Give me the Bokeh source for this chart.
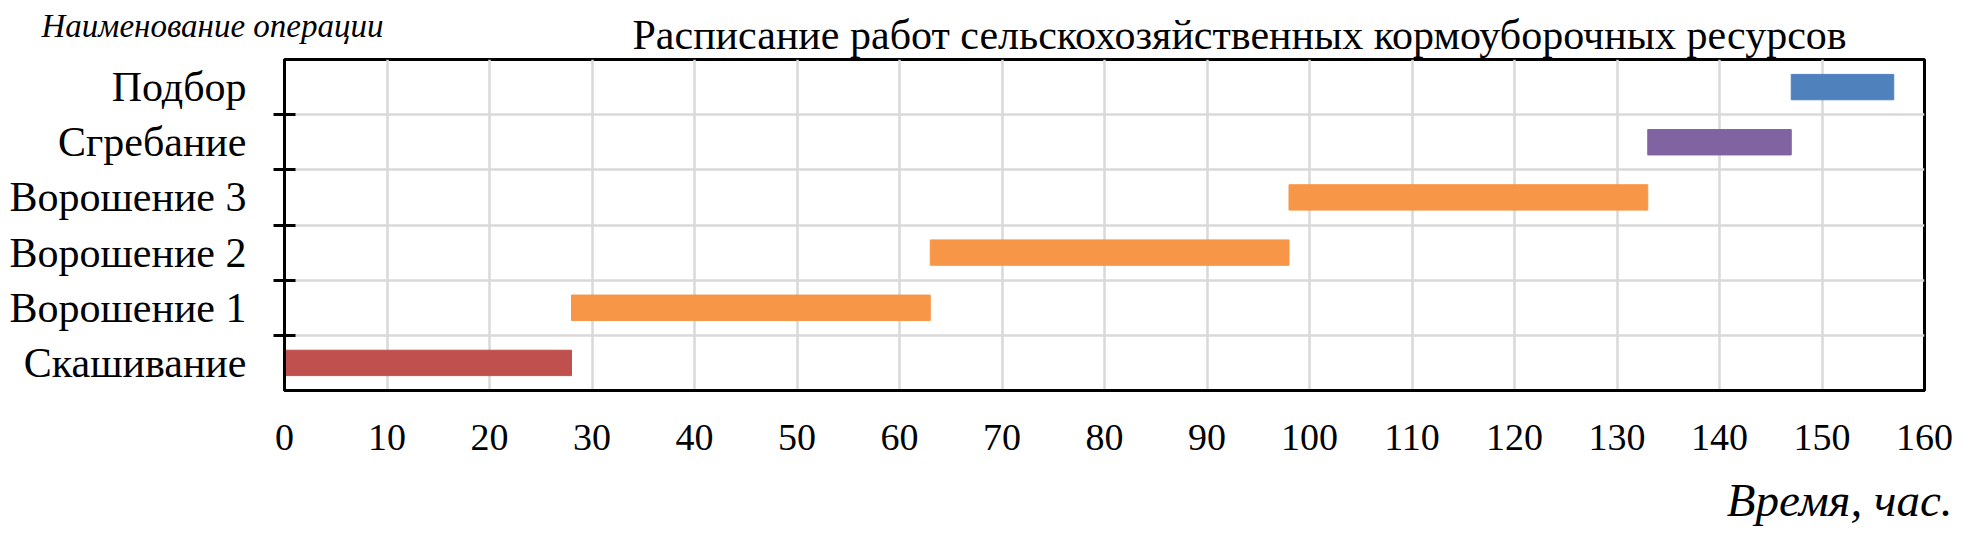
from bokeh.plotting import figure
from bokeh.models import FixedTicker, Label, Range1d, ColumnDataSource, Title
from bokeh.embed import file_html
from bokeh.resources import INLINE

operations = ["Скашивание", "Ворошение 1", "Ворошение 2", "Ворошение 3", "Сгребание", "Подбор"]
start_h = [0, 28, 63, 98, 133, 147]
end_h = [28, 63, 98, 133, 147, 157]
bar_colors = ["#C0504D", "#F79646", "#F79646", "#F79646", "#8064A2", "#4F81BD"]
x_ticks = [0, 10, 20, 30, 40, 50, 60, 70, 80, 90, 100, 110, 120, 130, 140, 150, 160]

title_text = "Расписание работ сельскохозяйственных кормоуборочных ресурсов"
y_title = "Наименование операции"
x_title = "Время, час."

FONT = "Liberation Serif"
W, H = 1953, 529
FL, FT, FR, FB = 284, 59, 1924, 390  # frame edges in canvas pixels

ypos = [i + 0.5 for i in range(len(operations))]
src = ColumnDataSource(dict(y=ypos, left=start_h, right=end_h, color=bar_colors, name=operations))

p = figure(width=W, height=H, output_backend="svg", toolbar_location=None,
           x_range=Range1d(x_ticks[0], x_ticks[-1]), y_range=Range1d(0, len(operations)),
           min_border_left=FL, min_border_right=W - FR, min_border_top=FT, min_border_bottom=H - FB)
p.background_fill_color = "white"
p.border_fill_color = "white"
p.outline_line_color = "black"
p.outline_line_width = 3

p.hbar(y="y", left="left", right="right", height=0.46, color="color", source=src)

# grids
p.xgrid.ticker = FixedTicker(ticks=x_ticks[1:-1])
p.ygrid.ticker = FixedTicker(ticks=[i for i in range(1, len(operations))])
for g in (p.xgrid, p.ygrid):
    g.grid_line_color = "#D9D9D9"
    g.grid_line_width = 2.5

# x axis
xa = p.xaxis[0]
xa.ticker = FixedTicker(ticks=x_ticks)
xa.axis_line_color = "black"
xa.axis_line_width = 3
xa.major_tick_in = 0
xa.major_tick_out = 0
xa.minor_tick_in = 0
xa.minor_tick_out = 0
xa.major_label_standoff = 34
xa.major_label_text_font = FONT
xa.major_label_text_font_size = "38px"
xa.major_label_text_color = "black"

# y axis
ya = p.yaxis[0]
ya.ticker = FixedTicker(ticks=ypos, minor_ticks=[i for i in range(1, len(operations))])
ya.major_label_overrides = {y: n for y, n in zip(ypos, operations)}
ya.axis_line_color = "black"
ya.axis_line_width = 3
ya.major_tick_in = 0
ya.major_tick_out = 0
ya.minor_tick_in = 11
ya.minor_tick_out = 11
ya.minor_tick_line_width = 3
ya.minor_tick_line_color = "black"
ya.major_label_standoff = 27
ya.major_label_text_font = FONT
ya.major_label_text_font_size = "42px"
ya.major_label_text_color = "black"

# main title
p.title.text = title_text
p.title.align = "left"
p.title.offset = 632 - FL
p.title.standoff = 4
p.title.text_font = FONT
p.title.text_font_size = "42px"
p.title.text_font_style = "normal"
p.title.text_color = "black"

# y-axis name (top-left): label in a side panel (not clipped to the frame), data units
sx = (x_ticks[-1] - x_ticks[0]) / (FR - FL)          # data units per pixel, x
sy = len(operations) / (FB - FT)                      # data units per pixel, y
p.add_layout(Label(x=(41 - FL) * sx, y=(FB - 25) * sy, text=y_title,
                   text_font=FONT, text_font_style="italic", text_font_size="33px",
                   text_align="left", text_baseline="middle", text_color="black"), "below")

# x-axis name (bottom-right): title below, pulled up with a negative standoff
p.add_layout(Title(text=x_title, align="right", offset=FR - 1952, standoff=-34,
                   text_font=FONT, text_font_style="italic", text_font_size="47px",
                   text_color="black"), "below")

open("out.html", "w").write(file_html(p, INLINE))
